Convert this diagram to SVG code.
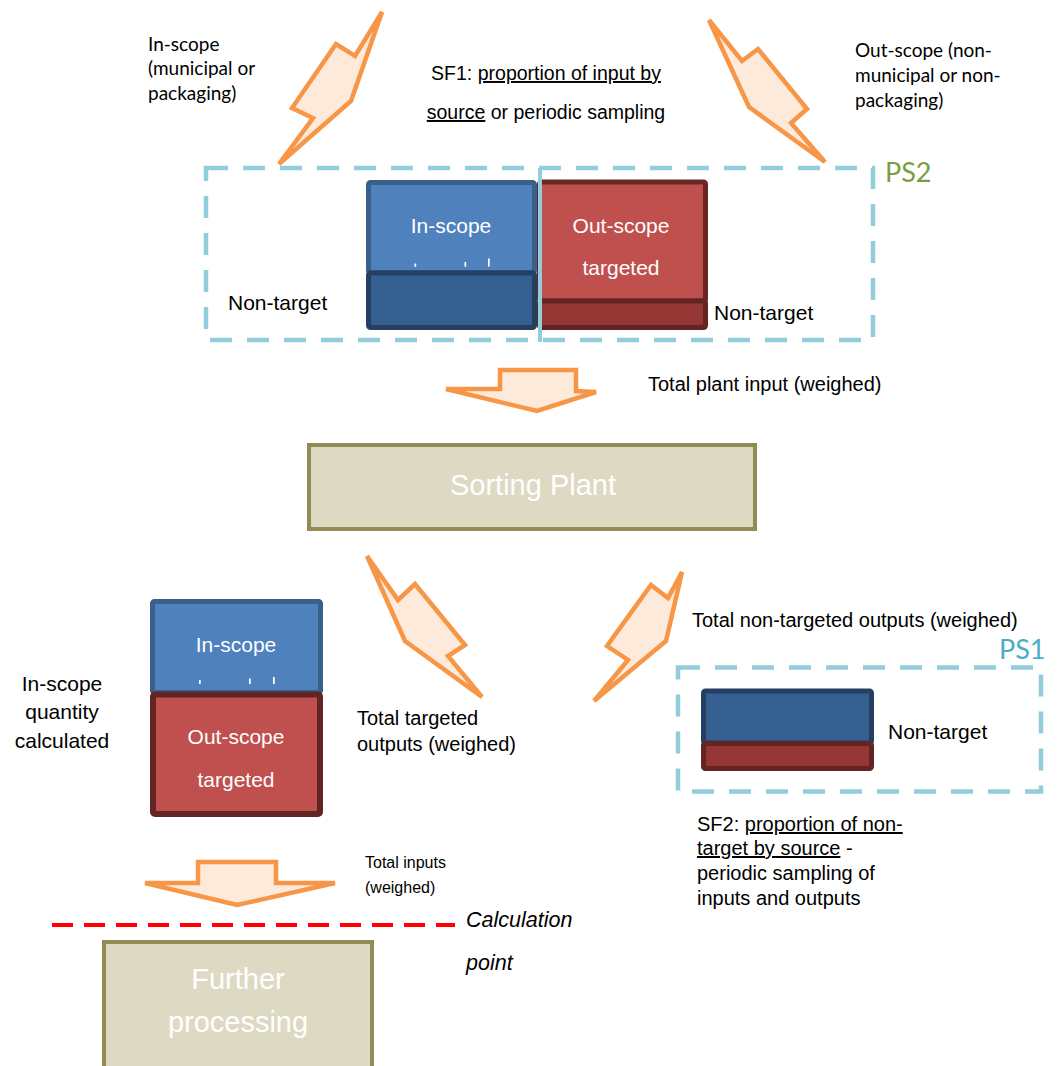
<svg xmlns="http://www.w3.org/2000/svg" width="1057" height="1066" viewBox="0 0 1057 1066">
<defs>
<style>
.arr{fill:#FDEADA;stroke:#F79646;stroke-width:4.5;stroke-linejoin:miter;stroke-miterlimit:3}
.ps{fill:none;stroke:#92CDDC;stroke-width:4.5;stroke-dasharray:22 15}
.lbl{font-family:"Liberation Sans",Arial,sans-serif;font-size:20px;fill:#000}
.big{font-family:"Liberation Sans",Arial,sans-serif;font-size:21px}
.cal{font-family:Lato,"Open Sans",sans-serif;font-size:19px;fill:#000}
.wt{fill:#FFFFFF;text-anchor:middle}
.proc{fill:#DDD9C3;stroke:#948A54;stroke-width:4}
.bl{fill:#4F81BD;stroke:#3A5F8D;stroke-width:5}
.dbl{fill:#365F91;stroke:#253F62;stroke-width:5}
.rd{fill:#C0504D;stroke:#6A2624;stroke-width:5}
.drd{fill:#953735;stroke:#632523;stroke-width:5}
.u{text-decoration:underline}
</style>
</defs>
<rect width="1057" height="1066" fill="#FFFFFF"/>

<g id="connectors">
<polygon class="arr" points="382,12 355,56 336,44 292,108 313,118 279,164 351,101"/>
<polygon class="arr" points="709,20 742,61 758,49 807,109 791,123 825,162 749,107"/>
<polygon class="arr" points="500,370 576,370 576,391 596,392 537,411 446,389 500,389"/>
<polygon class="arr" points="367,556 398,600 415,584 465,645 448,656 482,697 405,641"/>
<polygon class="arr" points="682,572 668,598 651,585 607,646 628,660 594,701 666,641"/>
<polygon class="arr" points="198,862 276,862 276,883 335,883 237,905 145,883 198,883"/>
</g>

<g id="ps2">
<rect class="ps" x="206" y="168" width="667" height="172"/>
<text x="885" y="182" style="font-family:Lato,'Open Sans',sans-serif;font-size:27px;fill:#77A043">PS2</text>
</g>

<g id="inscope-top">
<rect class="bl" x="368.5" y="182.5" width="166" height="90" rx="2"/>
<rect class="dbl" x="368.5" y="273" width="166" height="54.5" rx="2"/>
<text class="big wt" x="451" y="233">In-scope</text>
<rect x="414.5" y="263.5" width="1.7" height="3.3" fill="#FFFFFF"/>
<rect x="464.5" y="262" width="1.7" height="4.7" fill="#FFFFFF"/>
<rect x="488" y="258.5" width="1.7" height="8" fill="#FFFFFF"/>
</g>

<g id="outscope-top">
<rect class="rd" x="539.5" y="182" width="166" height="119" rx="2"/>
<rect class="drd" x="539.5" y="301" width="166" height="26.5" rx="2"/>
<text class="big wt" x="621" y="233">Out-scope</text>
<text class="big wt" x="621" y="275">targeted</text>
</g>
<line x1="540" y1="168" x2="540" y2="342" stroke="#92CDDC" stroke-width="4"/>

<g id="nontarget-labels">
<text class="big" x="228" y="310">Non-target</text>
<text class="big" x="714" y="320">Non-target</text>
</g>

<g id="in-scope-label">
<text class="cal"><tspan x="148" y="51">In-scope</tspan><tspan x="148" y="75">(municipal or</tspan><tspan x="148" y="100">packaging)</tspan></text>
</g>
<g id="out-scope-label">
<text class="cal"><tspan x="855" y="57">Out-scope (non-</tspan><tspan x="855" y="82">municipal or non-</tspan><tspan x="855" y="107">packaging)</tspan></text>
</g>
<g id="sf1">
<text class="lbl" x="546" y="80" text-anchor="middle" style="font-size:19.5px">SF1: <tspan class="u">proportion of input by</tspan></text>
<text class="lbl" x="546" y="119" text-anchor="middle" style="font-size:19.5px"><tspan class="u">source</tspan> or periodic sampling</text>
</g>

<g id="plant-input-label">
<text class="lbl" x="648" y="391">Total plant input (weighed)</text>
</g>

<g id="sorting-plant">
<rect class="proc" x="309" y="445" width="446" height="84"/>
<text x="533" y="495" text-anchor="middle" style="font-family:'Liberation Sans',Arial,sans-serif;font-size:29px;fill:#FFFFFF">Sorting Plant</text>
</g>

<g id="targeted-label">
<text class="lbl"><tspan x="357" y="725">Total targeted</tspan><tspan x="357" y="751">outputs (weighed)</tspan></text>
</g>
<g id="nontargeted-label">
<text class="lbl" x="692" y="627">Total non-targeted outputs (weighed)</text>
</g>

<g id="outputs-block">
<rect class="bl" x="152.5" y="601.5" width="168" height="91" rx="2"/>
<rect class="drd" x="153" y="694.5" width="167" height="119.5" rx="2" style="fill:#C0504D;stroke-width:6"/>
<text class="big wt" x="236" y="652">In-scope</text>
<rect x="199" y="680" width="1.7" height="4" fill="#FFFFFF"/>
<rect x="249" y="678.5" width="1.7" height="5.5" fill="#FFFFFF"/>
<rect x="273" y="677" width="1.7" height="7" fill="#FFFFFF"/>
<text class="big wt" x="236" y="744">Out-scope</text>
<text class="big wt" x="236" y="787">targeted</text>
</g>
<g id="calc-label">
<text class="big" text-anchor="middle"><tspan x="62" y="691">In-scope</tspan><tspan x="62" y="719">quantity</tspan><tspan x="62" y="748">calculated</tspan></text>
</g>

<g id="ps1">
<rect class="ps" x="678" y="667.5" width="363" height="124"/>
<text x="999" y="659" style="font-family:Lato,'Open Sans',sans-serif;font-size:27px;fill:#4BACC6">PS1</text>
<rect class="dbl" x="703.5" y="691" width="168" height="52" rx="2"/>
<rect class="drd" x="703.5" y="743.5" width="168" height="25" rx="2"/>
<text class="big" x="888" y="739">Non-target</text>
</g>

<g id="sf2">
<text class="lbl"><tspan x="697" y="831">SF2: <tspan class="u">proportion of non-</tspan></tspan><tspan x="697" y="855"><tspan class="u">target by source</tspan> -</tspan><tspan x="697" y="880">periodic sampling of</tspan><tspan x="697" y="905">inputs and outputs</tspan></text>
</g>

<g id="inputs-label">
<text class="lbl" style="font-size:16px"><tspan x="365" y="868">Total inputs</tspan><tspan x="365" y="893">(weighed)</tspan></text>
</g>

<g id="calc-point">
<line x1="52" y1="925" x2="455" y2="925" stroke="#FF0000" stroke-width="4" stroke-dasharray="21 11"/>
<text style="font-family:'Liberation Sans',Arial,sans-serif;font-size:21.5px;font-style:italic"><tspan x="466" y="927">Calculation</tspan><tspan x="466" y="970">point</tspan></text>
</g>

<g id="further-processing">
<rect class="proc" x="104" y="942" width="268" height="140"/>
<text x="238" y="989" text-anchor="middle" style="font-family:'Liberation Sans',Arial,sans-serif;font-size:29px;fill:#FFFFFF"><tspan x="238" y="989">Further</tspan><tspan x="238" y="1032">processing</tspan></text>
</g>
</svg>
